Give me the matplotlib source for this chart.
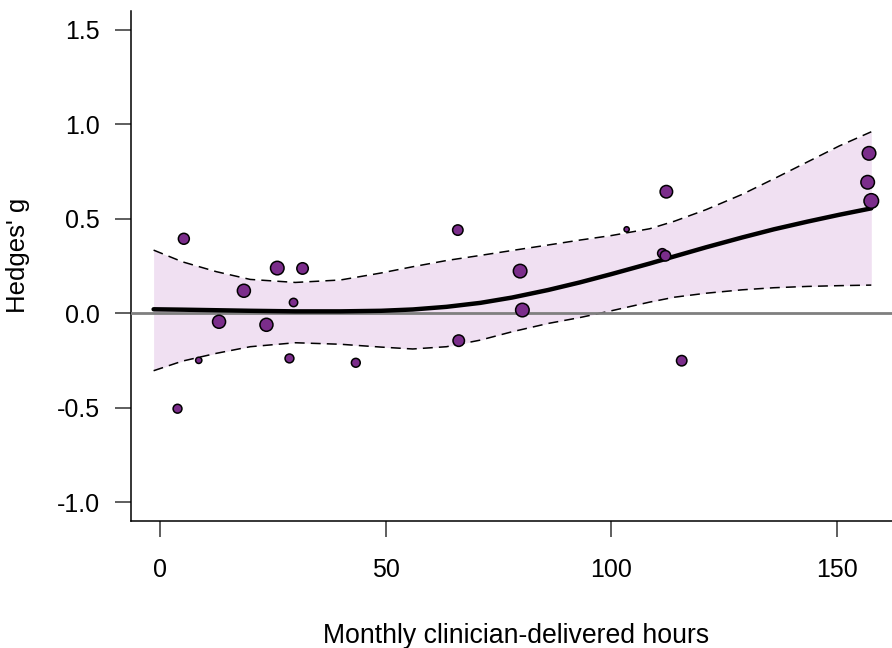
import matplotlib
matplotlib.use("Agg")
import matplotlib.pyplot as plt
import numpy as np

plt.rcParams['font.family'] = ['Liberation Sans', 'DejaVu Sans']
plt.rcParams['axes.unicode_minus'] = False

# study points: moderator, effect size, relative weight (drawn marker diameter)
hours = [5.3, 3.9, 8.6, 13.1, 18.6, 26.0, 23.6, 31.6, 29.6, 28.7, 43.4,
         66.0, 66.2, 79.8, 80.3, 103.4, 112.2, 111.3, 112.0, 115.6,
         157.1, 156.8, 157.6]
hedges_g = [0.393, -0.506, -0.25, -0.046, 0.118, 0.238, -0.062, 0.236, 0.056, -0.24, -0.263,
            0.439, -0.146, 0.222, 0.016, 0.443, 0.642, 0.316, 0.303, -0.252,
            0.845, 0.692, 0.593]
weight = [10.5, 8.5, 6, 12.5, 12.5, 13, 12.5, 11, 8, 8.5, 8.5,
          10, 11, 13, 13, 5, 12, 9, 10, 10,
          13, 13, 14]

# fitted curve and confidence band
fit_x = [-1.4, 5, 12.5, 20, 30, 40, 49, 56, 63.5, 71, 78, 86, 93, 100,
         108.5, 114, 121, 129, 136, 143.5, 150.5, 157.6]
fit_y = [0.020, 0.018, 0.015, 0.012, 0.009, 0.009, 0.012, 0.019, 0.033, 0.054, 0.082,
         0.122, 0.162, 0.206, 0.262, 0.300, 0.348, 0.400, 0.443, 0.484, 0.520, 0.554]
ci_upper = [0.333, 0.271, 0.219, 0.178, 0.162, 0.175, 0.212, 0.245, 0.278, 0.305, 0.331,
            0.360, 0.386, 0.410, 0.446, 0.486, 0.547, 0.628, 0.710, 0.800, 0.884, 0.959]
ci_lower = [-0.305, -0.254, -0.213, -0.178, -0.157, -0.165, -0.180, -0.190, -0.178, -0.143, -0.099,
            -0.055, -0.024, 0.012, 0.058, 0.084, 0.105, 0.123, 0.134, 0.141, 0.145, 0.148]

xticks = [0, 50, 100, 150]
yticks = [-1.0, -0.5, 0.0, 0.5, 1.0, 1.5]


def main():
    fig = plt.figure(figsize=(8.92, 6.48), dpi=100)
    ax = fig.add_axes([0.1469, 0.196, 0.8744, 0.7876])

    ax.fill_between(fit_x, ci_lower, ci_upper, color='#f0e0f2', lw=0, zorder=1)
    ax.plot(fit_x, ci_upper, color='black', lw=1.1, ls=(0, (6.5, 4)), zorder=2)
    ax.plot(fit_x, ci_lower, color='black', lw=1.1, ls=(0, (6.5, 4)), zorder=2)
    ax.axhline(0, color='#7f7f7f', lw=2, zorder=3)
    ax.plot(fit_x, fit_y, color='black', lw=3.2, solid_capstyle='round',
            solid_joinstyle='round', zorder=4)

    sizes = [(d * 0.75) ** 2 for d in weight]
    ax.scatter(hours, hedges_g, s=sizes, c='#7b2d8b', edgecolors='black',
               linewidths=1.1, zorder=5)

    ax.set_xlim(-6.4, 166.4)
    ax.set_ylim(-1.1, 1.6)
    ax.set_xticks(xticks)
    ax.set_xticklabels([str(t) for t in xticks])
    ax.set_yticks(yticks)
    ax.set_yticklabels(["{:.1f}".format(t) for t in yticks])

    for side in ['top', 'right']:
        ax.spines[side].set_visible(False)
    for side in ['left', 'bottom']:
        ax.spines[side].set_linewidth(1.1)

    ax.tick_params(axis='both', length=11.5, width=1.1, labelsize=18, color='#333333')
    ax.tick_params(axis='x', pad=15)
    ax.tick_params(axis='y', pad=11)

    ax.set_xlabel("Monthly clinician-delivered hours", fontsize=19.2, va='center')
    ax.xaxis.set_label_coords(0.494, -0.226)
    ax.set_ylabel("Hedges' g", fontsize=18.5, va='center')
    ax.yaxis.set_label_coords(-0.145, 0.52)

    fig.savefig("out.png", dpi=100)


if __name__ == '__main__':
    main()
